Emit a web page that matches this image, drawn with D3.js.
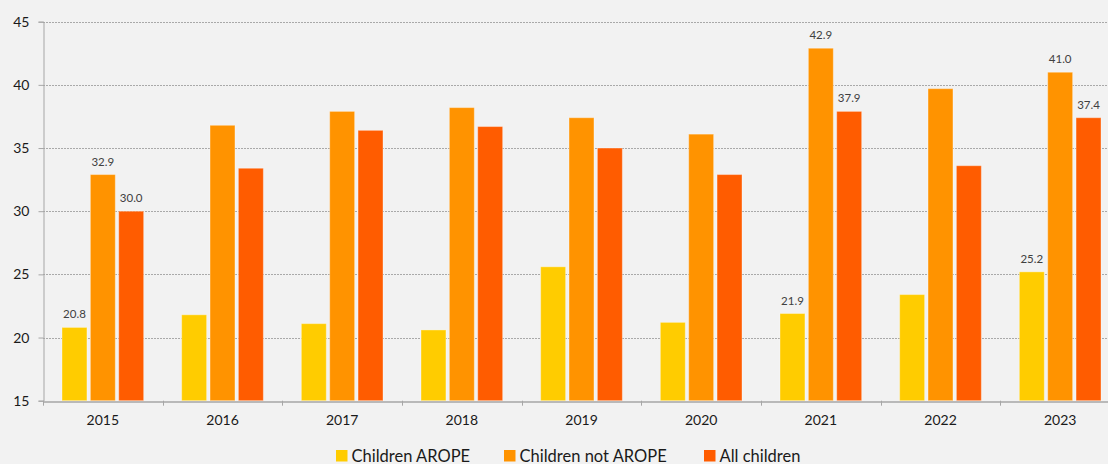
<!DOCTYPE html>
<html>
<head>
<meta charset="utf-8">
<script src="https://cdn.jsdelivr.net/npm/d3@7"></script>
<style>
  html, body { margin: 0; padding: 0; background: #f2f2f2; }
  svg { display: block; font-family: Lato, "Open Sans", sans-serif; }
</style>
</head>
<body>
<div id="chart"></div>
<script>
const years = ["2015", "2016", "2017", "2018", "2019", "2020", "2021", "2022", "2023"];
const seriesNames = ["Children AROPE", "Children not AROPE", "All children"];
const arope = [20.8, 21.8, 21.1, 20.6, 25.6, 21.2, 21.9, 23.4, 25.2];
const notArope = [32.9, 36.8, 37.9, 38.2, 37.4, 36.1, 42.9, 39.7, 41.0];
const allChildren = [30.0, 33.4, 36.4, 36.7, 35.0, 32.9, 37.9, 33.6, 37.4];
const yTicks = [15, 20, 25, 30, 35, 40, 45];
const labelledYears = ["2015", "2021", "2023"];
const colors = ["#ffcc00", "#ff9300", "#ff5c00"];

const values = [arope, notArope, allChildren];
const rows = years.map((y, i) => ({
    year: y,
    vals: seriesNames.map((s, j) => ({ series: s, idx: j, year: y, value: values[j][i] }))
}));

const width = 1108, height = 464;
const margin = { top: 21.7, right: -12, bottom: 63.3, left: 43 };

const svg = d3.select("#chart").append("svg")
    .attr("width", width)
    .attr("height", height);

const x0 = d3.scaleBand()
    .domain(years)
    .range([margin.left, width - margin.right]);

const x1 = d3.scaleBand()
    .domain(seriesNames)
    .range([19, x0.bandwidth() - 19])
    .paddingInner(0.12);

const y = d3.scaleLinear()
    .domain([15, 45])
    .range([height - margin.bottom, margin.top]);

// gridlines
svg.append("g")
    .selectAll("line")
    .data(yTicks.filter(t => t > 15))
    .join("line")
    .attr("x1", margin.left)
    .attr("x2", width)
    .attr("y1", d => Math.round(y(d)) + 0.5)
    .attr("y2", d => Math.round(y(d)) + 0.5)
    .attr("stroke", "#a9a9a9")
    .attr("stroke-dasharray", "2,1");

// bars
const groups = svg.append("g")
    .selectAll("g")
    .data(rows)
    .join("g")
    .attr("transform", d => `translate(${x0(d.year)},0)`);

groups.selectAll("rect")
    .data(d => d.vals)
    .join("rect")
    .attr("x", d => x1(d.series))
    .attr("y", d => y(d.value))
    .attr("width", x1.bandwidth())
    .attr("height", d => y(15) - y(d.value))
    .attr("fill", d => colors[d.idx])
    .attr("stroke", "#ffffff")
    .attr("stroke-opacity", 0.35)
    .attr("stroke-width", 1);

// value labels
groups.selectAll("text")
    .data(d => labelledYears.includes(d.year) ? d.vals : [])
    .join("text")
    .attr("x", d => x1(d.series) + x1.bandwidth() / 2)
    .attr("y", d => y(d.value) - 9)
    .attr("text-anchor", "middle")
    .attr("font-size", 11.5)
    .attr("fill", "#404040")
    .text(d => d.value.toFixed(1));

// y axis
const yAxis = svg.append("g")
    .attr("transform", `translate(${margin.left + 0.5},0)`)
    .call(d3.axisLeft(y).tickValues(yTicks).tickSize(5).tickPadding(9));
yAxis.select(".domain").attr("stroke", "#a6a6a6");
yAxis.selectAll(".tick line").attr("stroke", "#a6a6a6");
yAxis.selectAll(".tick text")
    .attr("font-size", 14)
    .attr("fill", "#1a1a1a")
    .attr("font-family", "Lato, sans-serif");

// x axis
const xAxis = svg.append("g")
    .attr("transform", `translate(0,${Math.round(y(15)) + 0.5})`)
    .call(d3.axisBottom(x0).tickSize(0).tickPadding(14));
xAxis.select(".domain").attr("stroke", "#a6a6a6").attr("stroke-width", 1.5);
xAxis.selectAll(".tick text")
    .attr("font-size", 14)
    .attr("fill", "#1a1a1a")
    .attr("font-family", "Lato, sans-serif");

// category separator ticks
svg.append("g")
    .selectAll("line")
    .data(years)
    .join("line")
    .attr("x1", d => Math.round(x0(d)) + 0.5)
    .attr("x2", d => Math.round(x0(d)) + 0.5)
    .attr("y1", y(15))
    .attr("y2", y(15) + 5)
    .attr("stroke", "#a6a6a6");

// legend
const legendX = [336, 504, 704];
const legend = svg.append("g")
    .selectAll("g")
    .data(seriesNames)
    .join("g")
    .attr("transform", (d, i) => `translate(${legendX[i]},450)`);

legend.append("rect")
    .attr("width", 11.5)
    .attr("height", 11.5)
    .attr("fill", (d, i) => colors[i]);

legend.append("text")
    .attr("x", 15.5)
    .attr("y", 11.5)
    .attr("font-size", 16.5)
    .attr("fill", "#1a1a1a")
    .text(d => d);
</script>
</body>
</html>
